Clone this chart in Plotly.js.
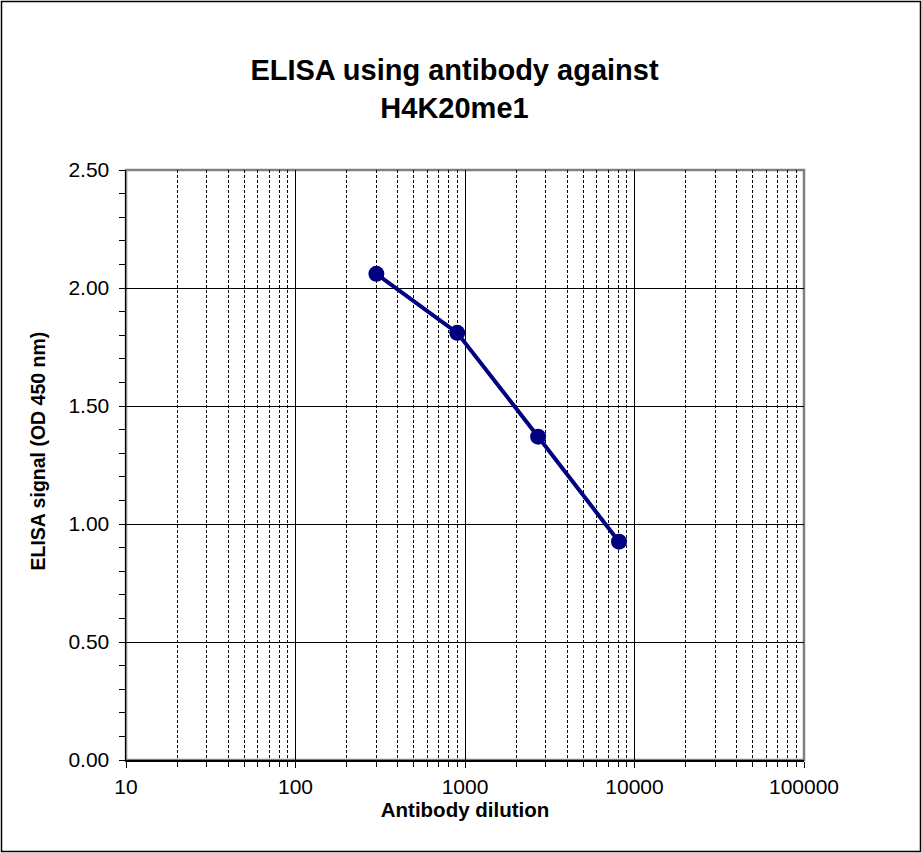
<!DOCTYPE html>
<html>
<head>
<meta charset="utf-8">
<script src="https://cdn.plot.ly/plotly-3.0.1.min.js"></script>
<style>
  body { margin: 0; background: #fff; }
  #chart { width: 922px; height: 853px; }
</style>
</head>
<body>
<div id="chart"></div>
<script>
"use strict"
// antibody dilution vs OD 450
let dilution = [300, 900, 2700, 8100];
let signal = [2.06, 1.81, 1.37, 0.925];
let chart_title = "ELISA using antibody against<br>H4K20me1";
let x_title = "Antibody dilution";
let y_title = "ELISA signal (OD 450 nm)";

// minor gridlines at 2..9 of each decade
let minor_x = [];
for (let d = 10; d < 100000; d *= 10) {
    for (let k = 2; k <= 9; k++) minor_x.push(k * d);
}

let font_name = "Liberation Sans, Arial, sans-serif";
let plot_l = 126, plot_r = 118, plot_t = 170, plot_b = 93;
let pw = 922 - plot_l - plot_r, ph = 853 - plot_t - plot_b;

let data = [{
    x: dilution,
    y: signal,
    type: 'scatter',
    mode: 'lines+markers',
    line: { color: '#000080', width: 4 },
    marker: { color: '#000080', size: 16, symbol: 'circle' },
    showlegend: false,
    hoverinfo: 'x+y'
}];

let layout = {
    width: 922,
    height: 853,
    margin: { l: plot_l, r: plot_r, t: plot_t, b: plot_b },
    paper_bgcolor: '#fff',
    plot_bgcolor: '#fff',
    font: { family: font_name, color: '#000', size: 21 },
    title: {
        text: chart_title,
        font: { family: font_name, size: 29, color: '#000', weight: 'bold' },
        x: (454.5 - plot_l) / pw, xref: 'paper', xanchor: 'center',
        y: 1 - 80 / 853, yref: 'container', yanchor: 'top'
    },
    xaxis: {
        type: 'log',
        range: [1, 5],
        dtick: 1,
        tickformat: 'd',
        showgrid: true,
        gridcolor: '#000',
        gridwidth: 1,
        showline: true,
        linecolor: '#000',
        linewidth: 1.5,
        ticks: 'outside',
        ticklen: 6,
        tickcolor: '#000',
        ticklabelstandoff: 1,
        tickfont: { family: font_name, size: 21, color: '#000' },
        zeroline: false,
        minor: {
            tickvals: minor_x,
            showgrid: true,
            gridcolor: '#000',
            gridwidth: 1,
            griddash: '3px,2px',
            ticks: 'outside',
            ticklen: 5,
            tickcolor: '#000'
        },
        title: {
            text: x_title,
            font: { family: font_name, size: 20.5, color: '#000', weight: 'bold' },
            standoff: 2
        }
    },
    yaxis: {
        range: [0, 2.5],
        dtick: 0.5,
        tickformat: '.2f',
        showgrid: true,
        gridcolor: '#000',
        gridwidth: 1,
        showline: true,
        linecolor: '#000',
        linewidth: 1.5,
        ticks: 'outside',
        ticklen: 6,
        tickcolor: '#000',
        ticklabelstandoff: 5,
        tickfont: { family: font_name, size: 21, color: '#000' },
        zeroline: false,
        minor: {
            dtick: 0.1,
            showgrid: false,
            ticks: 'outside',
            ticklen: 6,
            tickcolor: '#000'
        }
    },
    annotations: [{
        text: y_title,
        xref: 'paper', yref: 'paper',
        x: (37 - plot_l) / pw, y: (760 - 451.5) / ph,
        xanchor: 'center', yanchor: 'middle',
        textangle: -90,
        showarrow: false,
        font: { family: font_name, size: 19.5, color: '#000', weight: 'bold' }
    }],
    shapes: [
        // grey plot frame (top/right stay grey)
        {
            type: 'rect', xref: 'paper', yref: 'paper',
            x0: 0, x1: 1, y0: 0, y1: 1,
            line: { color: '#808080', width: 2.5 },
            layer: 'below'
        },
        // outer black border
        {
            type: 'rect', xref: 'paper', yref: 'paper',
            x0: (1.5 - plot_l) / pw, x1: (920.5 - plot_l) / pw,
            y0: (760 - 851.5) / ph, y1: (760 - 1.5) / ph,
            line: { color: '#000', width: 1.5 }
        }
    ]
};

Plotly.newPlot('chart', data, layout, { displayModeBar: false, staticPlot: true });
</script>
</body>
</html>
